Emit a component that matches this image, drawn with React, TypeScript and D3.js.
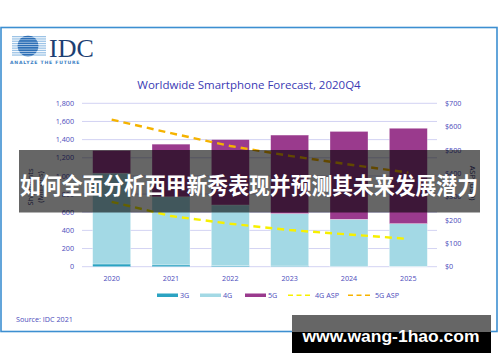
import React from "react";
import * as d3 from "d3";

const years = ["2020", "2021", "2022", "2023", "2024", "2025"];
const g3 = [30, 20, 12, 8, 5, 3];
const g4 = [1000, 750, 668, 577, 517, 471];
const g5 = [250, 580, 720, 865, 968, 1051];
const asp4g = [278, 217, 184, 157, 138, 119];
const asp5g = [630, 572, 517, 475, 438, 403];
const leftTicks = [0, 200, 400, 600, 800, 1000, 1200, 1400, 1600, 1800];
const rightTicks = [0, 100, 200, 300, 400, 500, 600, 700];
const legendItems = [
  { label: "3G", kind: "bar", color: "#2ba3c2" },
  { label: "4G", kind: "bar", color: "#a3d9e5" },
  { label: "5G", kind: "bar", color: "#9a3a8d" },
  { label: "4G ASP", kind: "line", color: "#f7f000" },
  { label: "5G ASP", kind: "line", color: "#f5b300" },
];
const title = "Worldwide Smartphone Forecast, 2020Q4";
const overlayText = "如何全面分析西甲新秀表现并预测其未来发展潜力";
const watermark = "www.wang-1hao.com";

const FONT = "'Open Sans', 'Noto Sans', sans-serif";
const LABEL = "#4b4bbb";

export default function App() {
  const x = d3
    .scaleBand<string>()
    .domain(years)
    .range([82, 438])
    .paddingInner(0.36)
    .paddingOuter(0.18);
  const yL = d3.scaleLinear().domain([0, 1800]).range([266.7, 103.3]);
  const yR = d3.scaleLinear().domain([0, 700]).range([266.7, 103.3]);
  const bw = x.bandwidth();
  const cx = (y: string) => (x(y) as number) + bw / 2;

  const stack = years.map((yr, i) => {
    const a = g3[i];
    const b = a + g4[i];
    const c = b + g5[i];
    return { yr, segs: [[0, a, "#2ba3c2"], [a, b, "#a3d9e5"], [b, c, "#9a3a8d"]] as [number, number, string][] };
  });

  const line = d3
    .line<number>()
    .x((_, i) => cx(years[i]))
    .y((d) => yR(d));

  const legendX = [157, 200, 245, 288, 348];

  return (
    <svg
      width={500}
      height={362}
      style={{ position: "absolute", left: 0, top: 0, background: "#fff" }}
      fontFamily={FONT}
    >
      <rect x={0} y={0} width={500} height={362} fill="#fff" />
      <rect x={1} y={27.5} width={496} height={304} fill="#fff" stroke="#3d8fd1" strokeWidth={1.6} />

      {/* IDC logo */}
      <g>
        <clipPath id="globe">
          <circle cx={28} cy={46} r={10.5} />
        </clipPath>
        {d3.range(9).map((k) => (
          <rect key={"gs" + k} x={12} y={36 + k * 2.3} width={34} height={1.3} fill="#9cc3e6" />
        ))}
        <g clipPath="url(#globe)">
          {d3.range(10).map((k) => (
            <rect key={"gc" + k} x={17} y={35.5 + k * 2.3} width={22} height={1.7} fill="#2d6fb6" />
          ))}
        </g>
        <text x={49} y={57} fontFamily="'Liberation Serif', 'DejaVu Serif', serif" fontSize={26} fill="#1d3f73">
          IDC
        </text>
        <text x={10} y={64} fontSize={4.6} fill="#3d7fc4" letterSpacing={0.75} fontFamily="'DejaVu Sans', sans-serif" fontWeight="bold">
          ANALYZE THE FUTURE
        </text>
      </g>

      <text x={249} y={89} textAnchor="middle" fontSize={11.5} fill="#3a3ab4">
        {title}
      </text>

      {/* grid and left ticks */}
      {leftTicks.map((t) => (
        <g key={"l" + t}>
          <line x1={82} x2={437} y1={yL(t)} y2={yL(t)} stroke="#d3d3f3" strokeWidth={1} />
          <text x={74} y={yL(t) + 2.6} textAnchor="end" fontSize={7.2} fill={LABEL}>
            {d3.format(",")(t)}
          </text>
        </g>
      ))}
      {rightTicks.map((t) => (
        <text key={"r" + t} x={445} y={yR(t) + 2.6} fontSize={7.2} fill={LABEL}>
          {"$" + t}
        </text>
      ))}

      <text transform="translate(33,187) rotate(-90)" textAnchor="middle" fontSize={7.5} fill="#303070">
        Shipments
      </text>
      <text transform="translate(43,187) rotate(-90)" textAnchor="middle" fontSize={7.5} fill="#303070">
        (Millions)
      </text>
      <text transform="translate(470,183) rotate(90)" textAnchor="middle" fontSize={7.5} fill="#303070">
        ASP (USD)
      </text>

      {/* bars */}
      {stack.map((s) =>
        s.segs.map(([a, b, c], j) => (
          <rect
            key={s.yr + j}
            x={x(s.yr)}
            y={yL(b)}
            width={bw}
            height={yL(a) - yL(b)}
            fill={c}
            stroke="#ffffff"
            strokeOpacity={0.5}
            strokeWidth={0.6}
          />
        ))
      )}

      <path d={line(asp4g) || ""} fill="none" stroke="#f7f000" strokeWidth={2.4} strokeDasharray="7,5" />
      <path d={line(asp5g) || ""} fill="none" stroke="#f5b300" strokeWidth={2.4} strokeDasharray="7,5" />

      {years.map((yr) => (
        <text key={"x" + yr} x={cx(yr)} y={281} textAnchor="middle" fontSize={7.2} fill={LABEL}>
          {yr}
        </text>
      ))}

      {/* legend */}
      {legendItems.map((it, i) => (
        <g key={it.label}>
          {it.kind === "bar" ? (
            <rect x={legendX[i]} y={293.5} width={21} height={3.5} fill={it.color} />
          ) : (
            <line x1={legendX[i]} x2={legendX[i] + 25} y1={295.3} y2={295.3} stroke={it.color} strokeWidth={1.6} strokeDasharray="5,3.5" />
          )}
          <text x={legendX[i] + (it.kind === "bar" ? 23 : 27)} y={298} fontSize={7.2} fill={LABEL}>
            {it.label}
          </text>
        </g>
      ))}

      <text x={16} y={322} fontSize={7.2} fill={LABEL}>
        Source: IDC 2021
      </text>

      {/* overlay banner */}
      <rect x={19} y={150} width={461} height={62.5} fill="#000" fillOpacity={0.6} />
      <text
        x={249}
        y={194}
        textAnchor="middle"
        fontSize={22.5}
        fontWeight="bold"
        fill="#fff"
        fontFamily="'Noto Sans CJK SC', sans-serif"
        textLength={458}
        lengthAdjust="spacingAndGlyphs"
      >
        {overlayText}
      </text>

      {/* watermark */}
      <rect x={292} y={315} width={199} height={17} fill="#666" />
      <rect x={292} y={332} width={199} height={21} fill="#000" />
      <text
        x={391}
        y={342}
        textAnchor="middle"
        fontSize={17}
        fontWeight="bold"
        fill="#fff"
        fontFamily="'Liberation Sans', 'DejaVu Sans', sans-serif"
        textLength={177}
        lengthAdjust="spacingAndGlyphs"
      >
        {watermark}
      </text>
    </svg>
  );
}
